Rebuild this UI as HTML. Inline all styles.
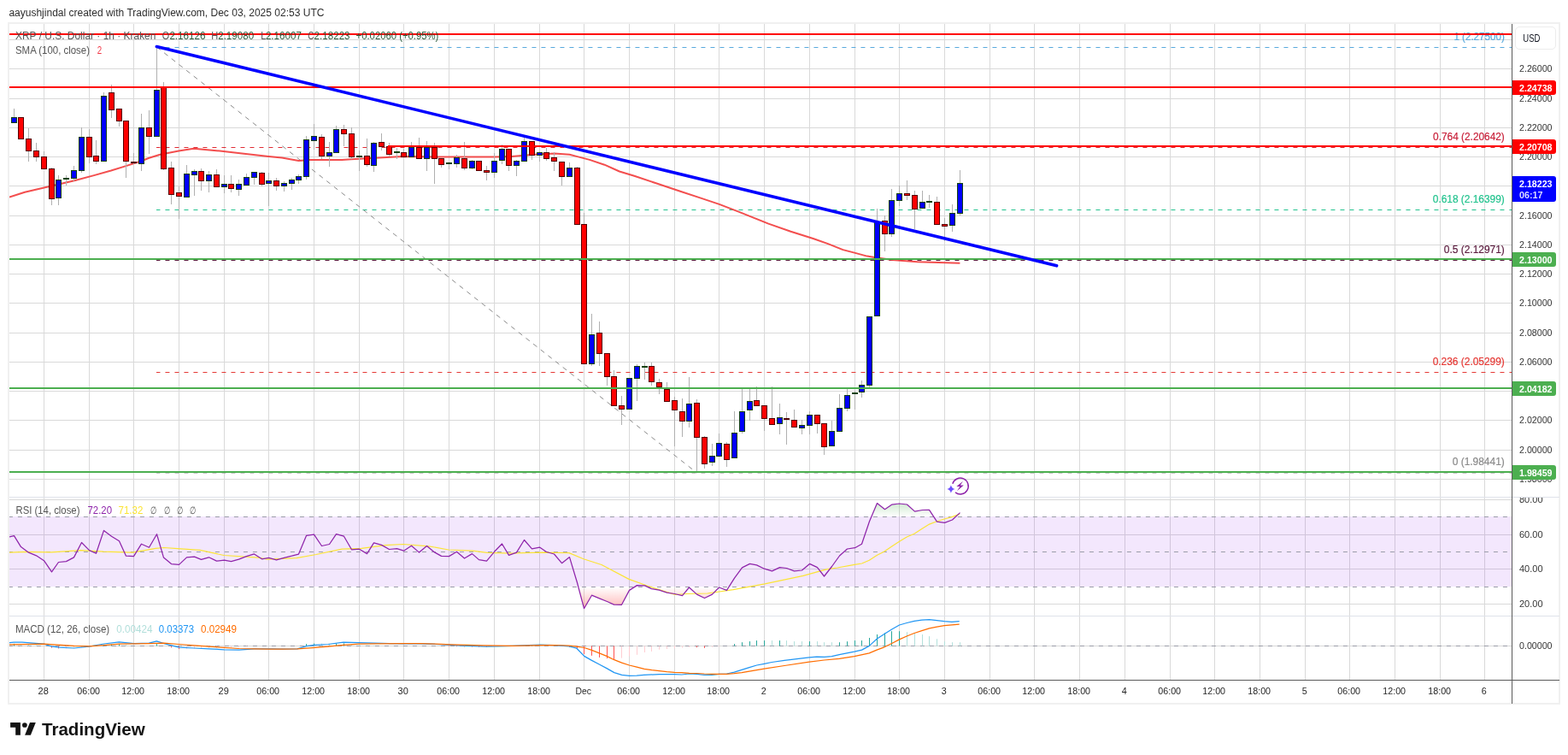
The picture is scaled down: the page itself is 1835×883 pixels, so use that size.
<!DOCTYPE html>
<html><head><meta charset="utf-8"><title>XRP / U.S. Dollar chart</title><style>html,body{margin:0;padding:0;background:#fff;width:1835px;height:883px;overflow:hidden}svg{display:block}</style></head><body>
<svg width="1835" height="883" viewBox="0 0 1835 883">
<defs>
<clipPath id="main"><rect x="11" y="28" width="1758" height="553"/></clipPath>
<clipPath id="rsi"><rect x="11" y="582" width="1758" height="138"/></clipPath>
<clipPath id="macd"><rect x="11" y="721" width="1758" height="74"/></clipPath>
<clipPath id="ob"><rect x="11" y="540" width="1758" height="64.5"/></clipPath>
<clipPath id="os"><rect x="11" y="686.5" width="1758" height="40"/></clipPath>
<clipPath id="axr"><rect x="1770" y="582" width="55" height="213"/></clipPath>
<linearGradient id="gob" x1="0" y1="543" x2="0" y2="604.5" gradientUnits="userSpaceOnUse"><stop offset="0" stop-color="#4caf50" stop-opacity="1"/><stop offset="1" stop-color="#4caf50" stop-opacity="0"/></linearGradient>
<linearGradient id="gos" x1="0" y1="686.5" x2="0" y2="748" gradientUnits="userSpaceOnUse"><stop offset="0" stop-color="#ff5252" stop-opacity="0"/><stop offset="1" stop-color="#ff5252" stop-opacity="1"/></linearGradient>
</defs>
<rect width="1835" height="883" fill="#ffffff"/>
<text x="10.4" y="18.6" font-family="'Liberation Sans', Arial, sans-serif" font-size="12" fill="#2e2e2e" textLength="369" lengthAdjust="spacingAndGlyphs">aayushjindal created with TradingView.com, Dec 03, 2025 02:53 UTC</text>
<rect x="10" y="27" width="1815" height="796" fill="none" stroke="#f0f0f0" stroke-width="2"/>
<rect x="51" y="28" width="1" height="767" fill="#d9d9d9"/><rect x="104" y="28" width="1" height="767" fill="#d9d9d9"/><rect x="156" y="28" width="1" height="767" fill="#d9d9d9"/><rect x="209" y="28" width="1" height="767" fill="#d9d9d9"/><rect x="262" y="28" width="1" height="767" fill="#d9d9d9"/><rect x="314" y="28" width="1" height="767" fill="#d9d9d9"/><rect x="367" y="28" width="1" height="767" fill="#d9d9d9"/><rect x="420" y="28" width="1" height="767" fill="#d9d9d9"/><rect x="472" y="28" width="1" height="767" fill="#d9d9d9"/><rect x="525" y="28" width="1" height="767" fill="#d9d9d9"/><rect x="578" y="28" width="1" height="767" fill="#d9d9d9"/><rect x="631" y="28" width="1" height="767" fill="#d9d9d9"/><rect x="683" y="28" width="1" height="767" fill="#d9d9d9"/><rect x="736" y="28" width="1" height="767" fill="#d9d9d9"/><rect x="789" y="28" width="1" height="767" fill="#d9d9d9"/><rect x="841" y="28" width="1" height="767" fill="#d9d9d9"/><rect x="894" y="28" width="1" height="767" fill="#d9d9d9"/><rect x="947" y="28" width="1" height="767" fill="#d9d9d9"/><rect x="1000" y="28" width="1" height="767" fill="#d9d9d9"/><rect x="1052" y="28" width="1" height="767" fill="#d9d9d9"/><rect x="1105" y="28" width="1" height="767" fill="#d9d9d9"/><rect x="1158" y="28" width="1" height="767" fill="#d9d9d9"/><rect x="1210" y="28" width="1" height="767" fill="#d9d9d9"/><rect x="1263" y="28" width="1" height="767" fill="#d9d9d9"/><rect x="1316" y="28" width="1" height="767" fill="#d9d9d9"/><rect x="1369" y="28" width="1" height="767" fill="#d9d9d9"/><rect x="1421" y="28" width="1" height="767" fill="#d9d9d9"/><rect x="1474" y="28" width="1" height="767" fill="#d9d9d9"/><rect x="1527" y="28" width="1" height="767" fill="#d9d9d9"/><rect x="1579" y="28" width="1" height="767" fill="#d9d9d9"/><rect x="1632" y="28" width="1" height="767" fill="#d9d9d9"/><rect x="1685" y="28" width="1" height="767" fill="#d9d9d9"/><rect x="1737" y="28" width="1" height="767" fill="#d9d9d9"/><rect x="11" y="46" width="1758" height="1" fill="#d9d9d9"/><rect x="11" y="80" width="1758" height="1" fill="#d9d9d9"/><rect x="11" y="115" width="1758" height="1" fill="#d9d9d9"/><rect x="11" y="149" width="1758" height="1" fill="#d9d9d9"/><rect x="11" y="183" width="1758" height="1" fill="#d9d9d9"/><rect x="11" y="217" width="1758" height="1" fill="#d9d9d9"/><rect x="11" y="252" width="1758" height="1" fill="#d9d9d9"/><rect x="11" y="286" width="1758" height="1" fill="#d9d9d9"/><rect x="11" y="320" width="1758" height="1" fill="#d9d9d9"/><rect x="11" y="354" width="1758" height="1" fill="#d9d9d9"/><rect x="11" y="389" width="1758" height="1" fill="#d9d9d9"/><rect x="11" y="423" width="1758" height="1" fill="#d9d9d9"/><rect x="11" y="457" width="1758" height="1" fill="#d9d9d9"/><rect x="11" y="491" width="1758" height="1" fill="#d9d9d9"/><rect x="11" y="526" width="1758" height="1" fill="#d9d9d9"/><rect x="11" y="560" width="1758" height="1" fill="#d9d9d9"/><rect x="11" y="584" width="1758" height="1" fill="#d9d9d9"/><rect x="11" y="625" width="1758" height="1" fill="#d9d9d9"/><rect x="11" y="665" width="1758" height="1" fill="#d9d9d9"/><rect x="11" y="706" width="1758" height="1" fill="#d9d9d9"/><rect x="11" y="604" width="1758" height="82" fill="rgb(155,60,240)" fill-opacity="0.12"/><line x1="11" y1="604.5" x2="1769" y2="604.5" stroke="#9a9ca8" stroke-width="1" stroke-dasharray="5 6" stroke-dashoffset="1.1"/><line x1="11" y1="645.5" x2="1769" y2="645.5" stroke="#9a9ca8" stroke-width="1" stroke-dasharray="5 6" stroke-dashoffset="1.1"/><line x1="11" y1="686.5" x2="1769" y2="686.5" stroke="#9a9ca8" stroke-width="1" stroke-dasharray="5 6" stroke-dashoffset="1.1"/><rect x="11" y="755" width="1758" height="1" fill="#d9d9d9"/><line x1="11" y1="755.5" x2="1769" y2="755.5" stroke="#9a9ca8" stroke-width="1" stroke-dasharray="5 6" stroke-dashoffset="1.1"/>
<rect x="11" y="581" width="1814" height="1" fill="#dfe2ea"/>
<rect x="11" y="720" width="1814" height="1" fill="#dfe2ea"/>
<g clip-path="url(#main)">
<line x1="183" y1="55.5" x2="1769" y2="55.5" stroke="#58a9dd" stroke-width="1.2" stroke-dasharray="5 6" stroke-dashoffset="0.55"/>
<line x1="183" y1="172.5" x2="1769" y2="172.5" stroke="#e02a33" stroke-width="1.2" stroke-dasharray="5 6" stroke-dashoffset="0.55"/>
<line x1="183" y1="245.5" x2="1769" y2="245.5" stroke="#22c38e" stroke-width="1.2" stroke-dasharray="5 6" stroke-dashoffset="0.55"/>
<line x1="183" y1="304.5" x2="1769" y2="304.5" stroke="#5a1a3d" stroke-width="1.2" stroke-dasharray="5 6" stroke-dashoffset="0.55"/>
<line x1="183" y1="435.5" x2="1769" y2="435.5" stroke="#e53935" stroke-width="1.2" stroke-dasharray="5 6" stroke-dashoffset="0.55"/>
<line x1="183" y1="553.0" x2="1769" y2="553.0" stroke="#8a8a8a" stroke-width="1.2" stroke-dasharray="5 6" stroke-dashoffset="0.55"/>
<line x1="183.5" y1="55" x2="815.5" y2="553" stroke="#8a8a8a" stroke-width="1" stroke-dasharray="5.5 5.5"/>
<g font-family="'Liberation Sans', Arial, sans-serif" font-size="12"><text x="1701.4" y="46.8" fill="#58a9dd" stroke="#58a9dd" stroke-width="0.2" textLength="59.4" lengthAdjust="spacingAndGlyphs">1 (2.27500)</text><text x="1677.1" y="163.7" fill="#c8213a" stroke="#c8213a" stroke-width="0.2" textLength="83.7" lengthAdjust="spacingAndGlyphs">0.764 (2.20642)</text><text x="1676.8" y="237" fill="#22c38e" stroke="#22c38e" stroke-width="0.2" textLength="84.0" lengthAdjust="spacingAndGlyphs">0.618 (2.16399)</text><text x="1689.8" y="295.9" fill="#5a1a3d" stroke="#5a1a3d" stroke-width="0.2" textLength="71.0" lengthAdjust="spacingAndGlyphs">0.5 (2.12971)</text><text x="1676.7" y="427" fill="#e53935" stroke="#e53935" stroke-width="0.2" textLength="84.1" lengthAdjust="spacingAndGlyphs">0.236 (2.05299)</text><text x="1699.7" y="543.8" fill="#8a8a8a" stroke="#8a8a8a" stroke-width="0.2" textLength="61.1" lengthAdjust="spacingAndGlyphs">0 (1.98441)</text></g>
<polyline points="11.0,230.5 29.0,224.7 58.0,218.0 87.0,211.3 110.0,205.1 130.0,199.5 145.0,194.9 165.0,188.5 174.4,184.8 187.4,180.7 209.2,176.6 226.7,173.8 257.2,176.6 283.3,179.4 314.4,183.0 330.0,184.6 349.5,188.0 362.0,187.1 400.0,186.9 411.0,186.3 471.0,183.0 526.0,183.6 580.0,183.6 598.6,182.9 625.8,180.8 648.9,179.5 666.5,180.8 674.7,182.9 690.0,186.9 707.4,192.7 724.9,200.5 742.3,205.8 768.5,214.5 794.6,223.2 820.8,231.9 841.7,238.9 864.4,247.6 881.8,254.6 899.3,261.6 925.4,270.8 951.6,279.0 969.0,285.1 986.5,292.1 1000.0,295.6 1014.7,299.6 1022.0,300.7 1044.2,304.0 1073.6,306.2 1123.4,307.7" fill="none" stroke="#f23b3b" stroke-opacity="0.9" stroke-width="2" stroke-linejoin="round"/>
<rect x="16" y="127" width="1" height="17" fill="#b0b0b0"/><rect x="24" y="137" width="1" height="26" fill="#b0b0b0"/><rect x="33" y="150" width="1" height="39" fill="#b0b0b0"/><rect x="42" y="167" width="1" height="22" fill="#b0b0b0"/><rect x="51" y="177" width="1" height="21" fill="#b0b0b0"/><rect x="60" y="196" width="1" height="44" fill="#b0b0b0"/><rect x="68" y="205" width="1" height="35" fill="#b0b0b0"/><rect x="77" y="205" width="1" height="12" fill="#b0b0b0"/><rect x="86" y="194" width="1" height="18" fill="#b0b0b0"/><rect x="95" y="149" width="1" height="53" fill="#b0b0b0"/><rect x="104" y="151" width="1" height="40" fill="#b0b0b0"/><rect x="112" y="164" width="1" height="28" fill="#b0b0b0"/><rect x="121" y="108" width="1" height="81" fill="#b0b0b0"/><rect x="130" y="99" width="1" height="39" fill="#b0b0b0"/><rect x="139" y="127" width="1" height="21" fill="#b0b0b0"/><rect x="147" y="141" width="1" height="67" fill="#b0b0b0"/><rect x="156" y="179" width="1" height="13" fill="#b0b0b0"/><rect x="165" y="133" width="1" height="67" fill="#b0b0b0"/><rect x="174" y="129" width="1" height="51" fill="#b0b0b0"/><rect x="183" y="56" width="1" height="104" fill="#b0b0b0"/><rect x="191" y="96" width="1" height="103" fill="#b0b0b0"/><rect x="200" y="189" width="1" height="50" fill="#b0b0b0"/><rect x="209" y="218" width="1" height="38" fill="#b0b0b0"/><rect x="218" y="193" width="1" height="38" fill="#b0b0b0"/><rect x="227" y="198" width="1" height="31" fill="#b0b0b0"/><rect x="235" y="197" width="1" height="26" fill="#b0b0b0"/><rect x="244" y="200" width="1" height="25" fill="#b0b0b0"/><rect x="253" y="198" width="1" height="21" fill="#b0b0b0"/><rect x="262" y="205" width="1" height="21" fill="#b0b0b0"/><rect x="270" y="205" width="1" height="20" fill="#b0b0b0"/><rect x="279" y="210" width="1" height="19" fill="#b0b0b0"/><rect x="288" y="203" width="1" height="14" fill="#b0b0b0"/><rect x="297" y="201" width="1" height="15" fill="#b0b0b0"/><rect x="306" y="201" width="1" height="17" fill="#b0b0b0"/><rect x="314" y="202" width="1" height="39" fill="#b0b0b0"/><rect x="323" y="208" width="1" height="15" fill="#b0b0b0"/><rect x="332" y="212" width="1" height="12" fill="#b0b0b0"/><rect x="341" y="208" width="1" height="14" fill="#b0b0b0"/><rect x="349" y="204" width="1" height="11" fill="#b0b0b0"/><rect x="358" y="159" width="1" height="51" fill="#b0b0b0"/><rect x="367" y="145" width="1" height="30" fill="#b0b0b0"/><rect x="376" y="157" width="1" height="29" fill="#b0b0b0"/><rect x="385" y="166" width="1" height="29" fill="#b0b0b0"/><rect x="393" y="147" width="1" height="32" fill="#b0b0b0"/><rect x="402" y="146" width="1" height="25" fill="#b0b0b0"/><rect x="411" y="149" width="1" height="37" fill="#b0b0b0"/><rect x="420" y="176" width="1" height="24" fill="#b0b0b0"/><rect x="429" y="162" width="1" height="33" fill="#b0b0b0"/><rect x="437" y="166" width="1" height="35" fill="#b0b0b0"/><rect x="446" y="156" width="1" height="20" fill="#b0b0b0"/><rect x="455" y="167" width="1" height="16" fill="#b0b0b0"/><rect x="464" y="173" width="1" height="13" fill="#b0b0b0"/><rect x="472" y="174" width="1" height="10" fill="#b0b0b0"/><rect x="481" y="166" width="1" height="18" fill="#b0b0b0"/><rect x="490" y="161" width="1" height="25" fill="#b0b0b0"/><rect x="499" y="165" width="1" height="35" fill="#b0b0b0"/><rect x="508" y="167" width="1" height="48" fill="#b0b0b0"/><rect x="516" y="185" width="1" height="11" fill="#b0b0b0"/><rect x="525" y="189" width="1" height="9" fill="#b0b0b0"/><rect x="534" y="181" width="1" height="15" fill="#b0b0b0"/><rect x="543" y="166" width="1" height="33" fill="#b0b0b0"/><rect x="552" y="187" width="1" height="11" fill="#b0b0b0"/><rect x="560" y="188" width="1" height="12" fill="#b0b0b0"/><rect x="569" y="194" width="1" height="17" fill="#b0b0b0"/><rect x="578" y="179" width="1" height="29" fill="#b0b0b0"/><rect x="587" y="169" width="1" height="23" fill="#b0b0b0"/><rect x="595" y="174" width="1" height="26" fill="#b0b0b0"/><rect x="604" y="187" width="1" height="19" fill="#b0b0b0"/><rect x="613" y="161" width="1" height="28" fill="#b0b0b0"/><rect x="622" y="166" width="1" height="21" fill="#b0b0b0"/><rect x="631" y="177" width="1" height="12" fill="#b0b0b0"/><rect x="639" y="173" width="1" height="15" fill="#b0b0b0"/><rect x="648" y="178" width="1" height="22" fill="#b0b0b0"/><rect x="657" y="189" width="1" height="28" fill="#b0b0b0"/><rect x="666" y="190" width="1" height="17" fill="#b0b0b0"/><rect x="675" y="195" width="1" height="68" fill="#b0b0b0"/><rect x="683" y="249" width="1" height="177" fill="#b0b0b0"/><rect x="692" y="367" width="1" height="61" fill="#b0b0b0"/><rect x="701" y="376" width="1" height="52" fill="#b0b0b0"/><rect x="710" y="413" width="1" height="38" fill="#b0b0b0"/><rect x="718" y="433" width="1" height="42" fill="#b0b0b0"/><rect x="727" y="463" width="1" height="34" fill="#b0b0b0"/><rect x="736" y="442" width="1" height="37" fill="#b0b0b0"/><rect x="745" y="426" width="1" height="43" fill="#b0b0b0"/><rect x="754" y="424" width="1" height="20" fill="#b0b0b0"/><rect x="762" y="424" width="1" height="27" fill="#b0b0b0"/><rect x="771" y="443" width="1" height="18" fill="#b0b0b0"/><rect x="780" y="447" width="1" height="23" fill="#b0b0b0"/><rect x="789" y="464" width="1" height="58" fill="#b0b0b0"/><rect x="798" y="466" width="1" height="45" fill="#b0b0b0"/><rect x="806" y="441" width="1" height="59" fill="#b0b0b0"/><rect x="815" y="467" width="1" height="85" fill="#b0b0b0"/><rect x="824" y="510" width="1" height="38" fill="#b0b0b0"/><rect x="833" y="519" width="1" height="26" fill="#b0b0b0"/><rect x="841" y="507" width="1" height="28" fill="#b0b0b0"/><rect x="850" y="517" width="1" height="29" fill="#b0b0b0"/><rect x="859" y="481" width="1" height="55" fill="#b0b0b0"/><rect x="868" y="455" width="1" height="52" fill="#b0b0b0"/><rect x="877" y="455" width="1" height="37" fill="#b0b0b0"/><rect x="885" y="452" width="1" height="23" fill="#b0b0b0"/><rect x="894" y="474" width="1" height="30" fill="#b0b0b0"/><rect x="903" y="452" width="1" height="45" fill="#b0b0b0"/><rect x="912" y="472" width="1" height="36" fill="#b0b0b0"/><rect x="920" y="482" width="1" height="38" fill="#b0b0b0"/><rect x="929" y="479" width="1" height="21" fill="#b0b0b0"/><rect x="938" y="491" width="1" height="17" fill="#b0b0b0"/><rect x="947" y="481" width="1" height="27" fill="#b0b0b0"/><rect x="956" y="485" width="1" height="22" fill="#b0b0b0"/><rect x="964" y="495" width="1" height="37" fill="#b0b0b0"/><rect x="973" y="492" width="1" height="30" fill="#b0b0b0"/><rect x="982" y="461" width="1" height="44" fill="#b0b0b0"/><rect x="991" y="455" width="1" height="26" fill="#b0b0b0"/><rect x="1000" y="457" width="1" height="22" fill="#b0b0b0"/><rect x="1008" y="445" width="1" height="20" fill="#b0b0b0"/><rect x="1017" y="370" width="1" height="83" fill="#b0b0b0"/><rect x="1026" y="244" width="1" height="126" fill="#b0b0b0"/><rect x="1035" y="252" width="1" height="42" fill="#b0b0b0"/><rect x="1043" y="221" width="1" height="56" fill="#b0b0b0"/><rect x="1052" y="217" width="1" height="24" fill="#b0b0b0"/><rect x="1061" y="211" width="1" height="23" fill="#b0b0b0"/><rect x="1070" y="223" width="1" height="45" fill="#b0b0b0"/><rect x="1079" y="223" width="1" height="21" fill="#b0b0b0"/><rect x="1087" y="228" width="1" height="15" fill="#b0b0b0"/><rect x="1096" y="230" width="1" height="33" fill="#b0b0b0"/><rect x="1105" y="255" width="1" height="27" fill="#b0b0b0"/><rect x="1114" y="239" width="1" height="32" fill="#b0b0b0"/><rect x="1123" y="199" width="1" height="53" fill="#b0b0b0"/>
<rect x="13" y="137" width="7" height="7" fill="#14420f"/><rect x="14" y="138" width="5" height="5" fill="#0000ff"/><rect x="21" y="137" width="7" height="26" fill="#520000"/><rect x="22" y="138" width="5" height="24" fill="#ff0000"/><rect x="30" y="162" width="7" height="15" fill="#520000"/><rect x="31" y="163" width="5" height="13" fill="#ff0000"/><rect x="39" y="176" width="7" height="8" fill="#520000"/><rect x="40" y="177" width="5" height="6" fill="#ff0000"/><rect x="48" y="183" width="7" height="15" fill="#520000"/><rect x="49" y="184" width="5" height="13" fill="#ff0000"/><rect x="57" y="197" width="7" height="36" fill="#520000"/><rect x="58" y="198" width="5" height="34" fill="#ff0000"/><rect x="65" y="210" width="7" height="22" fill="#14420f"/><rect x="66" y="211" width="5" height="20" fill="#0000ff"/><rect x="74" y="208" width="7" height="2" fill="#14420f"/><rect x="83" y="199" width="7" height="10" fill="#14420f"/><rect x="84" y="200" width="5" height="8" fill="#0000ff"/><rect x="92" y="160" width="7" height="40" fill="#14420f"/><rect x="93" y="161" width="5" height="38" fill="#0000ff"/><rect x="101" y="160" width="7" height="24" fill="#520000"/><rect x="102" y="161" width="5" height="22" fill="#ff0000"/><rect x="109" y="182" width="7" height="7" fill="#520000"/><rect x="110" y="183" width="5" height="5" fill="#ff0000"/><rect x="118" y="112" width="7" height="77" fill="#14420f"/><rect x="119" y="113" width="5" height="75" fill="#0000ff"/><rect x="127" y="108" width="7" height="21" fill="#520000"/><rect x="128" y="109" width="5" height="19" fill="#ff0000"/><rect x="136" y="127" width="7" height="15" fill="#520000"/><rect x="137" y="128" width="5" height="13" fill="#ff0000"/><rect x="144" y="141" width="7" height="48" fill="#520000"/><rect x="145" y="142" width="5" height="46" fill="#ff0000"/><rect x="153" y="189" width="7" height="2" fill="#520000"/><rect x="162" y="149" width="7" height="43" fill="#14420f"/><rect x="163" y="150" width="5" height="41" fill="#0000ff"/><rect x="171" y="149" width="7" height="11" fill="#520000"/><rect x="172" y="150" width="5" height="9" fill="#ff0000"/><rect x="180" y="105" width="7" height="55" fill="#14420f"/><rect x="181" y="106" width="5" height="53" fill="#0000ff"/><rect x="188" y="102" width="7" height="96" fill="#520000"/><rect x="189" y="103" width="5" height="94" fill="#ff0000"/><rect x="197" y="196" width="7" height="32" fill="#520000"/><rect x="198" y="197" width="5" height="30" fill="#ff0000"/><rect x="206" y="225" width="7" height="5" fill="#520000"/><rect x="207" y="226" width="5" height="3" fill="#ff0000"/><rect x="215" y="203" width="7" height="28" fill="#14420f"/><rect x="216" y="204" width="5" height="26" fill="#0000ff"/><rect x="224" y="200" width="7" height="5" fill="#14420f"/><rect x="225" y="201" width="5" height="3" fill="#0000ff"/><rect x="232" y="200" width="7" height="12" fill="#520000"/><rect x="233" y="201" width="5" height="10" fill="#ff0000"/><rect x="241" y="204" width="7" height="8" fill="#14420f"/><rect x="242" y="205" width="5" height="6" fill="#0000ff"/><rect x="250" y="204" width="7" height="15" fill="#520000"/><rect x="251" y="205" width="5" height="13" fill="#ff0000"/><rect x="259" y="215" width="7" height="4" fill="#14420f"/><rect x="260" y="216" width="5" height="2" fill="#0000ff"/><rect x="267" y="215" width="7" height="6" fill="#520000"/><rect x="268" y="216" width="5" height="4" fill="#ff0000"/><rect x="276" y="215" width="7" height="7" fill="#14420f"/><rect x="277" y="216" width="5" height="5" fill="#0000ff"/><rect x="285" y="207" width="7" height="10" fill="#14420f"/><rect x="286" y="208" width="5" height="8" fill="#0000ff"/><rect x="294" y="201" width="7" height="7" fill="#14420f"/><rect x="295" y="202" width="5" height="5" fill="#0000ff"/><rect x="303" y="202" width="7" height="14" fill="#520000"/><rect x="304" y="203" width="5" height="12" fill="#ff0000"/><rect x="311" y="211" width="7" height="4" fill="#14420f"/><rect x="312" y="212" width="5" height="2" fill="#0000ff"/><rect x="320" y="211" width="7" height="7" fill="#520000"/><rect x="321" y="212" width="5" height="5" fill="#ff0000"/><rect x="329" y="214" width="7" height="4" fill="#14420f"/><rect x="330" y="215" width="5" height="2" fill="#0000ff"/><rect x="338" y="210" width="7" height="5" fill="#14420f"/><rect x="339" y="211" width="5" height="3" fill="#0000ff"/><rect x="346" y="206" width="7" height="5" fill="#14420f"/><rect x="347" y="207" width="5" height="3" fill="#0000ff"/><rect x="355" y="163" width="7" height="44" fill="#14420f"/><rect x="356" y="164" width="5" height="42" fill="#0000ff"/><rect x="364" y="159" width="7" height="6" fill="#14420f"/><rect x="365" y="160" width="5" height="4" fill="#0000ff"/><rect x="373" y="160" width="7" height="23" fill="#520000"/><rect x="374" y="161" width="5" height="21" fill="#ff0000"/><rect x="382" y="178" width="7" height="5" fill="#14420f"/><rect x="383" y="179" width="5" height="3" fill="#0000ff"/><rect x="390" y="151" width="7" height="28" fill="#14420f"/><rect x="391" y="152" width="5" height="26" fill="#0000ff"/><rect x="399" y="151" width="7" height="6" fill="#520000"/><rect x="400" y="152" width="5" height="4" fill="#ff0000"/><rect x="408" y="156" width="7" height="28" fill="#520000"/><rect x="409" y="157" width="5" height="26" fill="#ff0000"/><rect x="417" y="182" width="7" height="2" fill="#14420f"/><rect x="426" y="182" width="7" height="11" fill="#520000"/><rect x="427" y="183" width="5" height="9" fill="#ff0000"/><rect x="434" y="167" width="7" height="27" fill="#14420f"/><rect x="435" y="168" width="5" height="25" fill="#0000ff"/><rect x="443" y="166" width="7" height="6" fill="#520000"/><rect x="444" y="167" width="5" height="4" fill="#ff0000"/><rect x="452" y="171" width="7" height="10" fill="#520000"/><rect x="453" y="172" width="5" height="8" fill="#ff0000"/><rect x="461" y="177" width="7" height="2" fill="#14420f"/><rect x="469" y="178" width="7" height="6" fill="#520000"/><rect x="470" y="179" width="5" height="4" fill="#ff0000"/><rect x="478" y="172" width="7" height="12" fill="#14420f"/><rect x="479" y="173" width="5" height="10" fill="#0000ff"/><rect x="487" y="172" width="7" height="14" fill="#520000"/><rect x="488" y="173" width="5" height="12" fill="#ff0000"/><rect x="496" y="172" width="7" height="14" fill="#14420f"/><rect x="497" y="173" width="5" height="12" fill="#0000ff"/><rect x="505" y="172" width="7" height="14" fill="#520000"/><rect x="506" y="173" width="5" height="12" fill="#ff0000"/><rect x="513" y="185" width="7" height="8" fill="#520000"/><rect x="514" y="186" width="5" height="6" fill="#ff0000"/><rect x="522" y="190" width="7" height="2" fill="#14420f"/><rect x="531" y="184" width="7" height="8" fill="#14420f"/><rect x="532" y="185" width="5" height="6" fill="#0000ff"/><rect x="540" y="185" width="7" height="12" fill="#520000"/><rect x="541" y="186" width="5" height="10" fill="#ff0000"/><rect x="549" y="188" width="7" height="9" fill="#14420f"/><rect x="550" y="189" width="5" height="7" fill="#0000ff"/><rect x="557" y="188" width="7" height="12" fill="#520000"/><rect x="558" y="189" width="5" height="10" fill="#ff0000"/><rect x="566" y="199" width="7" height="3" fill="#520000"/><rect x="567" y="200" width="5" height="1" fill="#ff0000"/><rect x="575" y="188" width="7" height="14" fill="#14420f"/><rect x="576" y="189" width="5" height="12" fill="#0000ff"/><rect x="584" y="174" width="7" height="14" fill="#14420f"/><rect x="585" y="175" width="5" height="12" fill="#0000ff"/><rect x="592" y="174" width="7" height="20" fill="#520000"/><rect x="593" y="175" width="5" height="18" fill="#ff0000"/><rect x="601" y="188" width="7" height="6" fill="#14420f"/><rect x="602" y="189" width="5" height="4" fill="#0000ff"/><rect x="610" y="165" width="7" height="24" fill="#14420f"/><rect x="611" y="166" width="5" height="22" fill="#0000ff"/><rect x="619" y="165" width="7" height="17" fill="#520000"/><rect x="620" y="166" width="5" height="15" fill="#ff0000"/><rect x="628" y="178" width="7" height="4" fill="#14420f"/><rect x="629" y="179" width="5" height="2" fill="#0000ff"/><rect x="636" y="178" width="7" height="8" fill="#520000"/><rect x="637" y="179" width="5" height="6" fill="#ff0000"/><rect x="645" y="184" width="7" height="5" fill="#520000"/><rect x="646" y="185" width="5" height="3" fill="#ff0000"/><rect x="654" y="189" width="7" height="18" fill="#520000"/><rect x="655" y="190" width="5" height="16" fill="#ff0000"/><rect x="663" y="196" width="7" height="11" fill="#14420f"/><rect x="664" y="197" width="5" height="9" fill="#0000ff"/><rect x="672" y="196" width="7" height="67" fill="#520000"/><rect x="673" y="197" width="5" height="65" fill="#ff0000"/><rect x="680" y="262" width="7" height="164" fill="#520000"/><rect x="681" y="263" width="5" height="162" fill="#ff0000"/><rect x="689" y="391" width="7" height="35" fill="#14420f"/><rect x="690" y="392" width="5" height="33" fill="#0000ff"/><rect x="698" y="389" width="7" height="25" fill="#520000"/><rect x="699" y="390" width="5" height="23" fill="#ff0000"/><rect x="707" y="413" width="7" height="28" fill="#520000"/><rect x="708" y="414" width="5" height="26" fill="#ff0000"/><rect x="715" y="440" width="7" height="35" fill="#520000"/><rect x="716" y="441" width="5" height="33" fill="#ff0000"/><rect x="724" y="474" width="7" height="5" fill="#520000"/><rect x="725" y="475" width="5" height="3" fill="#ff0000"/><rect x="733" y="442" width="7" height="37" fill="#14420f"/><rect x="734" y="443" width="5" height="35" fill="#0000ff"/><rect x="742" y="428" width="7" height="15" fill="#14420f"/><rect x="743" y="429" width="5" height="13" fill="#0000ff"/><rect x="751" y="428" width="7" height="2" fill="#14420f"/><rect x="759" y="428" width="7" height="19" fill="#520000"/><rect x="760" y="429" width="5" height="17" fill="#ff0000"/><rect x="768" y="447" width="7" height="6" fill="#520000"/><rect x="769" y="448" width="5" height="4" fill="#ff0000"/><rect x="777" y="455" width="7" height="15" fill="#520000"/><rect x="778" y="456" width="5" height="13" fill="#ff0000"/><rect x="786" y="468" width="7" height="12" fill="#520000"/><rect x="787" y="469" width="5" height="10" fill="#ff0000"/><rect x="795" y="481" width="7" height="12" fill="#520000"/><rect x="796" y="482" width="5" height="10" fill="#ff0000"/><rect x="803" y="472" width="7" height="21" fill="#14420f"/><rect x="804" y="473" width="5" height="19" fill="#0000ff"/><rect x="812" y="471" width="7" height="41" fill="#520000"/><rect x="813" y="472" width="5" height="39" fill="#ff0000"/><rect x="821" y="511" width="7" height="32" fill="#520000"/><rect x="822" y="512" width="5" height="30" fill="#ff0000"/><rect x="830" y="533" width="7" height="8" fill="#14420f"/><rect x="831" y="534" width="5" height="6" fill="#0000ff"/><rect x="838" y="518" width="7" height="16" fill="#14420f"/><rect x="839" y="519" width="5" height="14" fill="#0000ff"/><rect x="847" y="519" width="7" height="19" fill="#520000"/><rect x="848" y="520" width="5" height="17" fill="#ff0000"/><rect x="856" y="506" width="7" height="30" fill="#14420f"/><rect x="857" y="507" width="5" height="28" fill="#0000ff"/><rect x="865" y="481" width="7" height="24" fill="#14420f"/><rect x="866" y="482" width="5" height="22" fill="#0000ff"/><rect x="874" y="469" width="7" height="11" fill="#14420f"/><rect x="875" y="470" width="5" height="9" fill="#0000ff"/><rect x="882" y="468" width="7" height="7" fill="#520000"/><rect x="883" y="469" width="5" height="5" fill="#ff0000"/><rect x="891" y="474" width="7" height="16" fill="#520000"/><rect x="892" y="475" width="5" height="14" fill="#ff0000"/><rect x="900" y="489" width="7" height="8" fill="#520000"/><rect x="901" y="490" width="5" height="6" fill="#ff0000"/><rect x="909" y="488" width="7" height="8" fill="#14420f"/><rect x="910" y="489" width="5" height="6" fill="#0000ff"/><rect x="917" y="489" width="7" height="2" fill="#520000"/><rect x="926" y="491" width="7" height="9" fill="#520000"/><rect x="927" y="492" width="5" height="7" fill="#ff0000"/><rect x="935" y="497" width="7" height="4" fill="#14420f"/><rect x="936" y="498" width="5" height="2" fill="#0000ff"/><rect x="944" y="485" width="7" height="13" fill="#14420f"/><rect x="945" y="486" width="5" height="11" fill="#0000ff"/><rect x="953" y="485" width="7" height="11" fill="#520000"/><rect x="954" y="486" width="5" height="9" fill="#ff0000"/><rect x="961" y="495" width="7" height="28" fill="#520000"/><rect x="962" y="496" width="5" height="26" fill="#ff0000"/><rect x="970" y="504" width="7" height="18" fill="#14420f"/><rect x="971" y="505" width="5" height="16" fill="#0000ff"/><rect x="979" y="477" width="7" height="28" fill="#14420f"/><rect x="980" y="478" width="5" height="26" fill="#0000ff"/><rect x="988" y="462" width="7" height="16" fill="#14420f"/><rect x="989" y="463" width="5" height="14" fill="#0000ff"/><rect x="997" y="459" width="7" height="2" fill="#14420f"/><rect x="1005" y="450" width="7" height="9" fill="#14420f"/><rect x="1006" y="451" width="5" height="7" fill="#0000ff"/><rect x="1014" y="370" width="7" height="81" fill="#14420f"/><rect x="1015" y="371" width="5" height="79" fill="#0000ff"/><rect x="1023" y="259" width="7" height="111" fill="#14420f"/><rect x="1024" y="260" width="5" height="109" fill="#0000ff"/><rect x="1032" y="258" width="7" height="16" fill="#520000"/><rect x="1033" y="259" width="5" height="14" fill="#ff0000"/><rect x="1040" y="234" width="7" height="40" fill="#14420f"/><rect x="1041" y="235" width="5" height="38" fill="#0000ff"/><rect x="1049" y="226" width="7" height="9" fill="#14420f"/><rect x="1050" y="227" width="5" height="7" fill="#0000ff"/><rect x="1058" y="226" width="7" height="3" fill="#520000"/><rect x="1059" y="227" width="5" height="1" fill="#ff0000"/><rect x="1067" y="228" width="7" height="17" fill="#520000"/><rect x="1068" y="229" width="5" height="15" fill="#ff0000"/><rect x="1076" y="236" width="7" height="8" fill="#14420f"/><rect x="1077" y="237" width="5" height="6" fill="#0000ff"/><rect x="1084" y="235" width="7" height="2" fill="#14420f"/><rect x="1093" y="236" width="7" height="27" fill="#520000"/><rect x="1094" y="237" width="5" height="25" fill="#ff0000"/><rect x="1102" y="262" width="7" height="3" fill="#520000"/><rect x="1103" y="263" width="5" height="1" fill="#ff0000"/><rect x="1111" y="249" width="7" height="15" fill="#14420f"/><rect x="1112" y="250" width="5" height="13" fill="#0000ff"/><rect x="1120" y="214" width="7" height="36" fill="#14420f"/><rect x="1121" y="215" width="5" height="34" fill="#0000ff"/>
<rect x="11" y="39" width="1758" height="2" fill="#ff0000"/>
<rect x="11" y="101" width="1758" height="2" fill="#ff0000"/>
<rect x="454" y="170" width="1315" height="2" fill="#ff0000"/>
<rect x="11" y="302" width="1758" height="2" fill="#4caf50"/>
<rect x="11" y="453" width="1758" height="2" fill="#4caf50"/>
<rect x="11" y="551" width="1758" height="2" fill="#4caf50"/>
<line x1="183.4" y1="54.5" x2="1236.6" y2="310.8" stroke="#0000ff" stroke-width="3.6" stroke-linecap="round"/>
</g>
<g clip-path="url(#rsi)">
<polygon points="10.5,628.1 16.5,626.6 24.5,639.6 33.5,646.2 42.5,649.8 51.5,655.7 60.5,668.9 68.5,657.5 77.5,656.6 86.5,651.9 95.5,634.5 104.5,643.6 112.5,647.3 121.5,620.4 130.5,627.2 139.5,632.8 147.5,650.2 156.5,650.6 165.5,636.2 174.5,640.2 183.5,624.7 191.5,652.1 200.5,659.6 209.5,660.4 218.5,651.9 227.5,651.2 235.5,654.4 244.5,651.8 253.5,656.1 262.5,655.2 270.5,656.6 279.5,654.1 288.5,650.6 297.5,647.9 306.5,653.8 314.5,652.3 323.5,654.9 332.5,652.3 341.5,650.2 349.5,648.1 358.5,626.4 367.5,625.1 376.5,638.5 385.5,636.5 393.5,624.7 402.5,627.2 411.5,642.8 420.5,642.2 429.5,647.6 437.5,634.9 446.5,637.4 455.5,642.5 464.5,641.6 472.5,644.2 481.5,638.2 490.5,646.1 499.5,638.5 508.5,645.9 516.5,650.4 525.5,650.6 534.5,645.3 543.5,653.0 552.5,647.6 560.5,654.6 569.5,656.1 578.5,645.3 587.5,636.0 595.5,649.4 604.5,646.2 613.5,631.5 622.5,641.8 631.5,640.1 639.5,645.5 648.5,648.0 657.5,658.7 666.5,651.6 675.5,681.5 683.5,711.7 692.5,696.2 701.5,699.9 710.5,703.5 718.5,707.1 727.5,707.3 736.5,690.4 745.5,684.6 754.5,684.9 762.5,688.6 771.5,690.1 780.5,693.1 789.5,694.5 798.5,696.7 806.5,687.0 815.5,695.1 824.5,699.5 833.5,695.1 841.5,687.0 850.5,690.4 859.5,676.1 868.5,663.9 877.5,659.4 885.5,660.9 894.5,665.2 903.5,667.9 912.5,663.6 920.5,664.5 929.5,667.9 938.5,667.0 947.5,659.4 956.5,663.6 964.5,674.0 973.5,662.5 982.5,650.0 991.5,642.0 1000.5,640.7 1008.5,636.2 1017.5,609.7 1026.5,588.6 1035.5,595.7 1043.5,590.2 1052.5,589.0 1061.5,590.0 1070.5,598.1 1079.5,596.5 1087.5,596.3 1096.5,610.1 1105.5,611.4 1114.5,608.0 1123.5,599.6 1123.5,604.5 10.5,604.5" fill="url(#gob)" clip-path="url(#ob)"/>
<polygon points="10.5,628.1 16.5,626.6 24.5,639.6 33.5,646.2 42.5,649.8 51.5,655.7 60.5,668.9 68.5,657.5 77.5,656.6 86.5,651.9 95.5,634.5 104.5,643.6 112.5,647.3 121.5,620.4 130.5,627.2 139.5,632.8 147.5,650.2 156.5,650.6 165.5,636.2 174.5,640.2 183.5,624.7 191.5,652.1 200.5,659.6 209.5,660.4 218.5,651.9 227.5,651.2 235.5,654.4 244.5,651.8 253.5,656.1 262.5,655.2 270.5,656.6 279.5,654.1 288.5,650.6 297.5,647.9 306.5,653.8 314.5,652.3 323.5,654.9 332.5,652.3 341.5,650.2 349.5,648.1 358.5,626.4 367.5,625.1 376.5,638.5 385.5,636.5 393.5,624.7 402.5,627.2 411.5,642.8 420.5,642.2 429.5,647.6 437.5,634.9 446.5,637.4 455.5,642.5 464.5,641.6 472.5,644.2 481.5,638.2 490.5,646.1 499.5,638.5 508.5,645.9 516.5,650.4 525.5,650.6 534.5,645.3 543.5,653.0 552.5,647.6 560.5,654.6 569.5,656.1 578.5,645.3 587.5,636.0 595.5,649.4 604.5,646.2 613.5,631.5 622.5,641.8 631.5,640.1 639.5,645.5 648.5,648.0 657.5,658.7 666.5,651.6 675.5,681.5 683.5,711.7 692.5,696.2 701.5,699.9 710.5,703.5 718.5,707.1 727.5,707.3 736.5,690.4 745.5,684.6 754.5,684.9 762.5,688.6 771.5,690.1 780.5,693.1 789.5,694.5 798.5,696.7 806.5,687.0 815.5,695.1 824.5,699.5 833.5,695.1 841.5,687.0 850.5,690.4 859.5,676.1 868.5,663.9 877.5,659.4 885.5,660.9 894.5,665.2 903.5,667.9 912.5,663.6 920.5,664.5 929.5,667.9 938.5,667.0 947.5,659.4 956.5,663.6 964.5,674.0 973.5,662.5 982.5,650.0 991.5,642.0 1000.5,640.7 1008.5,636.2 1017.5,609.7 1026.5,588.6 1035.5,595.7 1043.5,590.2 1052.5,589.0 1061.5,590.0 1070.5,598.1 1079.5,596.5 1087.5,596.3 1096.5,610.1 1105.5,611.4 1114.5,608.0 1123.5,599.6 1123.5,686.5 10.5,686.5" fill="url(#gos)" clip-path="url(#os)"/>
<polyline points="10.0,646.2 31.0,645.3 60.0,645.9 95.0,643.6 121.0,645.1 155.0,646.2 182.0,641.3 192.0,640.5 208.0,641.6 234.0,643.4 262.0,649.5 302.0,652.1 313.0,654.1 347.0,652.7 370.0,648.5 400.0,642.1 423.0,641.3 451.0,637.6 472.0,636.5 502.0,638.8 525.0,643.0 553.0,644.2 570.0,646.4 600.0,647.2 612.0,646.6 636.0,646.2 666.0,646.6 683.0,653.7 704.0,660.5 736.0,677.4 758.0,685.3 790.0,695.5 804.0,694.5 828.0,694.0 858.0,689.7 895.0,682.9 940.0,673.4 967.0,665.9 980.0,664.0 1000.0,660.4 1008.6,659.0 1017.3,655.2 1026.1,649.5 1034.9,645.0 1043.7,638.9 1052.5,633.2 1061.2,628.0 1070.0,624.2 1078.8,618.5 1087.6,613.1 1096.4,609.7 1105.1,607.0 1113.9,604.6 1122.7,601.4" fill="none" stroke="#fbe435" stroke-width="1.2" stroke-linejoin="round"/>
<polyline points="10.5,628.1 16.5,626.6 24.5,639.6 33.5,646.2 42.5,649.8 51.5,655.7 60.5,668.9 68.5,657.5 77.5,656.6 86.5,651.9 95.5,634.5 104.5,643.6 112.5,647.3 121.5,620.4 130.5,627.2 139.5,632.8 147.5,650.2 156.5,650.6 165.5,636.2 174.5,640.2 183.5,624.7 191.5,652.1 200.5,659.6 209.5,660.4 218.5,651.9 227.5,651.2 235.5,654.4 244.5,651.8 253.5,656.1 262.5,655.2 270.5,656.6 279.5,654.1 288.5,650.6 297.5,647.9 306.5,653.8 314.5,652.3 323.5,654.9 332.5,652.3 341.5,650.2 349.5,648.1 358.5,626.4 367.5,625.1 376.5,638.5 385.5,636.5 393.5,624.7 402.5,627.2 411.5,642.8 420.5,642.2 429.5,647.6 437.5,634.9 446.5,637.4 455.5,642.5 464.5,641.6 472.5,644.2 481.5,638.2 490.5,646.1 499.5,638.5 508.5,645.9 516.5,650.4 525.5,650.6 534.5,645.3 543.5,653.0 552.5,647.6 560.5,654.6 569.5,656.1 578.5,645.3 587.5,636.0 595.5,649.4 604.5,646.2 613.5,631.5 622.5,641.8 631.5,640.1 639.5,645.5 648.5,648.0 657.5,658.7 666.5,651.6 675.5,681.5 683.5,711.7 692.5,696.2 701.5,699.9 710.5,703.5 718.5,707.1 727.5,707.3 736.5,690.4 745.5,684.6 754.5,684.9 762.5,688.6 771.5,690.1 780.5,693.1 789.5,694.5 798.5,696.7 806.5,687.0 815.5,695.1 824.5,699.5 833.5,695.1 841.5,687.0 850.5,690.4 859.5,676.1 868.5,663.9 877.5,659.4 885.5,660.9 894.5,665.2 903.5,667.9 912.5,663.6 920.5,664.5 929.5,667.9 938.5,667.0 947.5,659.4 956.5,663.6 964.5,674.0 973.5,662.5 982.5,650.0 991.5,642.0 1000.5,640.7 1008.5,636.2 1017.5,609.7 1026.5,588.6 1035.5,595.7 1043.5,590.2 1052.5,589.0 1061.5,590.0 1070.5,598.1 1079.5,596.5 1087.5,596.3 1096.5,610.1 1105.5,611.4 1114.5,608.0 1123.5,599.6" fill="none" stroke="#8e24aa" stroke-width="1.25" stroke-linejoin="round"/>
</g>
<g clip-path="url(#macd)">
<rect x="16" y="752.8" width="1" height="2.7" fill="#26a69a"/><rect x="24" y="753.0" width="1" height="2.5" fill="#b2dfdb"/><rect x="33" y="753.8" width="1" height="1.7" fill="#b2dfdb"/><rect x="42" y="754.6" width="1" height="0.9" fill="#b2dfdb"/><rect x="60" y="755.5" width="1" height="2.2" fill="#ff5252"/><rect x="68" y="755.5" width="1" height="2.9" fill="#ff5252"/><rect x="77" y="755.5" width="1" height="2.8" fill="#ffcdd2"/><rect x="86" y="755.5" width="1" height="2.7" fill="#ffcdd2"/><rect x="95" y="755.5" width="1" height="1.5" fill="#ffcdd2"/><rect x="112" y="754.9" width="1" height="0.6" fill="#26a69a"/><rect x="121" y="753.8" width="1" height="1.7" fill="#26a69a"/><rect x="130" y="753.5" width="1" height="2.0" fill="#26a69a"/><rect x="139" y="753.2" width="1" height="2.3" fill="#26a69a"/><rect x="147" y="754.1" width="1" height="1.4" fill="#b2dfdb"/><rect x="183" y="753.1" width="1" height="2.4" fill="#26a69a"/><rect x="200" y="755.5" width="1" height="1.9" fill="#ff5252"/><rect x="209" y="755.5" width="1" height="3.6" fill="#ff5252"/><rect x="218" y="755.5" width="1" height="3.3" fill="#ffcdd2"/><rect x="227" y="755.5" width="1" height="3.1" fill="#ffcdd2"/><rect x="235" y="755.5" width="1" height="2.9" fill="#ffcdd2"/><rect x="244" y="755.5" width="1" height="2.7" fill="#ffcdd2"/><rect x="253" y="755.5" width="1" height="2.5" fill="#ffcdd2"/><rect x="262" y="755.5" width="1" height="2.4" fill="#ffcdd2"/><rect x="270" y="755.5" width="1" height="2.0" fill="#ffcdd2"/><rect x="279" y="755.5" width="1" height="1.6" fill="#ffcdd2"/><rect x="288" y="755.5" width="1" height="0.8" fill="#ffcdd2"/><rect x="358" y="753.1" width="1" height="2.4" fill="#26a69a"/><rect x="367" y="752.5" width="1" height="3.0" fill="#26a69a"/><rect x="376" y="752.6" width="1" height="2.9" fill="#b2dfdb"/><rect x="385" y="752.8" width="1" height="2.7" fill="#b2dfdb"/><rect x="393" y="752.5" width="1" height="3.0" fill="#26a69a"/><rect x="402" y="752.4" width="1" height="3.1" fill="#26a69a"/><rect x="411" y="753.3" width="1" height="2.2" fill="#b2dfdb"/><rect x="420" y="754.1" width="1" height="1.4" fill="#b2dfdb"/><rect x="429" y="754.5" width="1" height="1.0" fill="#b2dfdb"/><rect x="437" y="754.8" width="1" height="0.7" fill="#b2dfdb"/><rect x="525" y="755.5" width="1" height="0.6" fill="#ff5252"/><rect x="534" y="755.5" width="1" height="0.7" fill="#ff5252"/><rect x="543" y="755.5" width="1" height="0.9" fill="#ff5252"/><rect x="552" y="755.5" width="1" height="1.0" fill="#ff5252"/><rect x="560" y="755.5" width="1" height="1.1" fill="#ff5252"/><rect x="569" y="755.5" width="1" height="1.2" fill="#ff5252"/><rect x="578" y="755.5" width="1" height="0.8" fill="#ffcdd2"/><rect x="622" y="755.0" width="1" height="0.5" fill="#26a69a"/><rect x="631" y="754.7" width="1" height="0.8" fill="#26a69a"/><rect x="666" y="755.5" width="1" height="1.4" fill="#ff5252"/><rect x="675" y="755.5" width="1" height="2.8" fill="#ff5252"/><rect x="683" y="755.5" width="1" height="9.5" fill="#ff5252"/><rect x="692" y="755.5" width="1" height="11.3" fill="#ff5252"/><rect x="701" y="755.5" width="1" height="13.4" fill="#ff5252"/><rect x="710" y="755.5" width="1" height="14.6" fill="#ff5252"/><rect x="718" y="755.5" width="1" height="15.6" fill="#ff5252"/><rect x="727" y="755.5" width="1" height="14.1" fill="#ffcdd2"/><rect x="736" y="755.5" width="1" height="12.0" fill="#ffcdd2"/><rect x="745" y="755.5" width="1" height="10.3" fill="#ffcdd2"/><rect x="754" y="755.5" width="1" height="7.5" fill="#ffcdd2"/><rect x="762" y="755.5" width="1" height="6.4" fill="#ffcdd2"/><rect x="771" y="755.5" width="1" height="4.2" fill="#ffcdd2"/><rect x="780" y="755.5" width="1" height="3.5" fill="#ffcdd2"/><rect x="789" y="755.5" width="1" height="2.8" fill="#ffcdd2"/><rect x="798" y="755.5" width="1" height="2.1" fill="#ffcdd2"/><rect x="806" y="755.5" width="1" height="1.4" fill="#ffcdd2"/><rect x="815" y="755.5" width="1" height="1.7" fill="#ff5252"/><rect x="824" y="755.5" width="1" height="2.4" fill="#ff5252"/><rect x="833" y="755.5" width="1" height="1.4" fill="#ffcdd2"/><rect x="841" y="755.5" width="1" height="0.7" fill="#ffcdd2"/><rect x="859" y="753.1" width="1" height="2.4" fill="#26a69a"/><rect x="868" y="751.2" width="1" height="4.3" fill="#26a69a"/><rect x="877" y="750.1" width="1" height="5.4" fill="#26a69a"/><rect x="885" y="749.1" width="1" height="6.4" fill="#26a69a"/><rect x="894" y="749.1" width="1" height="6.4" fill="#26a69a"/><rect x="903" y="749.1" width="1" height="6.4" fill="#b2dfdb"/><rect x="912" y="749.1" width="1" height="6.4" fill="#26a69a"/><rect x="920" y="749.1" width="1" height="6.4" fill="#b2dfdb"/><rect x="929" y="750.1" width="1" height="5.4" fill="#b2dfdb"/><rect x="938" y="750.1" width="1" height="5.4" fill="#b2dfdb"/><rect x="947" y="750.1" width="1" height="5.4" fill="#26a69a"/><rect x="956" y="750.1" width="1" height="5.4" fill="#b2dfdb"/><rect x="964" y="751.2" width="1" height="4.3" fill="#b2dfdb"/><rect x="973" y="751.2" width="1" height="4.3" fill="#b2dfdb"/><rect x="982" y="751.2" width="1" height="4.3" fill="#26a69a"/><rect x="991" y="750.2" width="1" height="5.3" fill="#26a69a"/><rect x="1000" y="749.1" width="1" height="6.4" fill="#26a69a"/><rect x="1008" y="749.1" width="1" height="6.4" fill="#26a69a"/><rect x="1017" y="746.0" width="1" height="9.5" fill="#26a69a"/><rect x="1026" y="742.0" width="1" height="13.5" fill="#26a69a"/><rect x="1035" y="740.3" width="1" height="15.2" fill="#26a69a"/><rect x="1043" y="738.2" width="1" height="17.3" fill="#26a69a"/><rect x="1052" y="738.2" width="1" height="17.3" fill="#26a69a"/><rect x="1061" y="739.2" width="1" height="16.3" fill="#b2dfdb"/><rect x="1070" y="741.0" width="1" height="14.5" fill="#b2dfdb"/><rect x="1079" y="742.0" width="1" height="13.5" fill="#b2dfdb"/><rect x="1087" y="744.1" width="1" height="11.4" fill="#b2dfdb"/><rect x="1096" y="747.3" width="1" height="8.2" fill="#b2dfdb"/><rect x="1105" y="750.2" width="1" height="5.3" fill="#b2dfdb"/><rect x="1114" y="751.2" width="1" height="4.3" fill="#b2dfdb"/><rect x="1123" y="751.2" width="1" height="4.3" fill="#b2dfdb"/>
<polyline points="11.0,751.7 16.4,751.2 26.0,751.2 51.5,753.1 60.0,755.8 69.0,757.1 86.6,758.0 104.2,756.2 121.7,753.0 139.3,750.8 156.9,752.6 174.4,752.2 183.3,749.9 192.0,752.6 209.6,757.1 227.2,758.0 244.7,758.9 262.3,759.8 279.8,760.1 297.4,758.9 314.9,758.9 330.0,759.2 348.0,758.9 358.8,755.6 367.8,754.4 384.0,753.5 402.0,751.2 420.0,751.7 438.0,752.2 456.0,752.6 474.0,752.9 492.0,752.9 510.0,753.5 528.0,754.4 546.0,755.3 569.0,756.2 582.0,755.8 600.0,755.3 632.0,754.0 648.6,754.7 666.1,755.8 674.9,758.2 683.7,767.4 692.5,772.4 701.3,777.0 710.0,781.6 718.8,786.6 727.6,789.4 736.4,790.4 745.2,790.1 753.9,789.4 771.5,788.7 789.1,788.7 797.8,789.0 806.6,788.0 815.4,788.4 824.2,789.4 833.0,789.4 841.7,788.4 850.5,788.0 859.3,786.1 868.1,783.4 876.9,780.6 885.6,778.0 894.4,776.3 903.2,774.5 918.0,772.4 947.1,768.8 955.9,768.1 964.7,768.4 973.4,767.7 982.2,765.7 991.0,763.9 999.8,762.2 1008.6,760.1 1017.3,755.4 1026.1,747.3 1034.9,741.6 1043.7,736.0 1052.5,731.0 1061.2,728.5 1070.0,726.3 1078.8,725.2 1087.6,724.6 1096.4,725.6 1105.1,726.6 1113.9,727.3 1122.7,726.6" fill="none" stroke="#2196f3" stroke-width="1.25" stroke-linejoin="round"/>
<polyline points="11.0,754.0 51.5,753.1 86.6,755.3 104.2,755.8 121.7,754.7 139.3,753.1 156.9,752.9 174.4,752.6 192.0,752.2 209.6,753.5 227.2,754.9 244.7,756.2 262.3,757.4 279.8,758.5 297.4,758.9 314.9,759.2 330.0,759.2 348.0,758.9 366.0,757.6 384.0,756.2 402.0,754.4 420.0,753.1 438.0,752.9 474.0,752.6 492.0,752.6 510.0,753.1 528.0,753.8 546.0,754.4 564.0,754.9 600.0,755.3 636.0,754.7 648.6,754.5 666.1,755.1 674.9,756.1 683.7,757.5 692.5,760.3 701.3,763.9 710.0,767.4 718.8,771.7 727.6,775.2 736.4,778.0 745.2,780.2 753.9,782.3 762.7,783.7 771.5,784.7 780.3,785.6 789.1,786.3 797.8,786.7 806.6,787.3 815.4,787.5 824.2,788.0 833.0,788.3 850.5,788.3 859.3,787.7 868.1,786.6 876.9,785.1 885.6,783.7 894.4,782.2 918.0,778.5 947.1,774.2 964.7,772.0 982.2,770.3 999.8,767.7 1017.3,763.9 1026.1,760.1 1034.9,756.8 1043.7,752.5 1052.5,747.9 1061.2,744.0 1070.0,740.5 1078.8,737.7 1087.6,734.8 1096.4,733.1 1105.1,731.7 1113.9,730.9 1122.7,730.2" fill="none" stroke="#ff6d00" stroke-width="1.25" stroke-linejoin="round"/>
</g>
<rect x="1769" y="28" width="1" height="795" fill="#5a5a5a"/>
<rect x="11" y="795" width="1814" height="1" fill="#5a5a5a"/>
<g font-family="'Liberation Sans', Arial, sans-serif" font-size="10.5" fill="#333333"><text x="1778" y="84.2" textLength="38.5" lengthAdjust="spacingAndGlyphs">2.26000</text><text x="1778" y="119.2" textLength="38.5" lengthAdjust="spacingAndGlyphs">2.24000</text><text x="1778" y="153.2" textLength="38.5" lengthAdjust="spacingAndGlyphs">2.22000</text><text x="1778" y="187.2" textLength="38.5" lengthAdjust="spacingAndGlyphs">2.20000</text><text x="1778" y="256.2" textLength="38.5" lengthAdjust="spacingAndGlyphs">2.16000</text><text x="1778" y="290.2" textLength="38.5" lengthAdjust="spacingAndGlyphs">2.14000</text><text x="1778" y="324.2" textLength="38.5" lengthAdjust="spacingAndGlyphs">2.12000</text><text x="1778" y="358.2" textLength="38.5" lengthAdjust="spacingAndGlyphs">2.10000</text><text x="1778" y="393.2" textLength="38.5" lengthAdjust="spacingAndGlyphs">2.08000</text><text x="1778" y="427.2" textLength="38.5" lengthAdjust="spacingAndGlyphs">2.06000</text><text x="1778" y="495.2" textLength="38.5" lengthAdjust="spacingAndGlyphs">2.02000</text><text x="1778" y="530.2" textLength="38.5" lengthAdjust="spacingAndGlyphs">2.00000</text><text x="1778" y="564.2" textLength="38.5" lengthAdjust="spacingAndGlyphs">1.98000</text></g>
<g font-family="'Liberation Sans', Arial, sans-serif" font-size="10.5" fill="#333333" clip-path="url(#axr)"><text x="1778" y="588.2" textLength="27.5" lengthAdjust="spacingAndGlyphs">80.00</text><text x="1778" y="629.2" textLength="27.5" lengthAdjust="spacingAndGlyphs">60.00</text><text x="1778" y="669.2" textLength="27.5" lengthAdjust="spacingAndGlyphs">40.00</text><text x="1778" y="710.2" textLength="27.5" lengthAdjust="spacingAndGlyphs">20.00</text><text x="1778" y="759.2" textLength="38.5" lengthAdjust="spacingAndGlyphs">0.00000</text></g>
<g font-family="'Liberation Sans', Arial, sans-serif" font-size="10.5"><path d="M1770,94 H1818 a3,3 0 0 1 3,3 V108 a3,3 0 0 1 -3,3 H1770 Z" fill="#ff0000"/><text x="1778" y="107.1" textLength="38.5" lengthAdjust="spacingAndGlyphs" font-weight="bold" fill="#ffffff">2.24738</text><path d="M1770,163 H1818 a3,3 0 0 1 3,3 V177 a3,3 0 0 1 -3,3 H1770 Z" fill="#ff0000"/><text x="1778" y="176.1" textLength="38.5" lengthAdjust="spacingAndGlyphs" font-weight="bold" fill="#ffffff">2.20708</text><path d="M1770,206 H1818 a3,3 0 0 1 3,3 V233 a3,3 0 0 1 -3,3 H1770 Z" fill="#0000ff"/><text x="1778" y="219.2" textLength="38.5" lengthAdjust="spacingAndGlyphs" font-weight="bold" fill="#ffffff">2.18223</text><text x="1778" y="232.0" textLength="27.5" lengthAdjust="spacingAndGlyphs" font-weight="bold" fill="#dcdcff">06:17</text><path d="M1770,295 H1818 a3,3 0 0 1 3,3 V309 a3,3 0 0 1 -3,3 H1770 Z" fill="#4caf50"/><text x="1778" y="308.1" textLength="38.5" lengthAdjust="spacingAndGlyphs" font-weight="bold" fill="#ffffff">2.13000</text><path d="M1770,446 H1818 a3,3 0 0 1 3,3 V460 a3,3 0 0 1 -3,3 H1770 Z" fill="#4caf50"/><text x="1778" y="459.1" textLength="38.5" lengthAdjust="spacingAndGlyphs" font-weight="bold" fill="#ffffff">2.04182</text><path d="M1770,544 H1818 a3,3 0 0 1 3,3 V558 a3,3 0 0 1 -3,3 H1770 Z" fill="#4caf50"/><text x="1778" y="557.1" textLength="38.5" lengthAdjust="spacingAndGlyphs" font-weight="bold" fill="#ffffff">1.98459</text></g>
<rect x="1773.5" y="31.5" width="47" height="26" rx="4.5" fill="#ffffff" stroke="#ececec" stroke-width="1"/>
<text x="1782.3" y="48.8" font-family="'Liberation Sans', Arial, sans-serif" font-size="12" fill="#131722" textLength="20.2" lengthAdjust="spacingAndGlyphs">USD</text>
<g font-family="'Liberation Sans', Arial, sans-serif" font-size="10.6" fill="#262626" text-anchor="middle"><text x="50.7" y="812" textLength="12.2" lengthAdjust="spacingAndGlyphs">28</text><text x="103.7" y="812" textLength="26.7" lengthAdjust="spacingAndGlyphs">06:00</text><text x="155.7" y="812" textLength="26.7" lengthAdjust="spacingAndGlyphs">12:00</text><text x="208.7" y="812" textLength="26.7" lengthAdjust="spacingAndGlyphs">18:00</text><text x="261.7" y="812" textLength="12.2" lengthAdjust="spacingAndGlyphs">29</text><text x="313.7" y="812" textLength="26.7" lengthAdjust="spacingAndGlyphs">06:00</text><text x="366.7" y="812" textLength="26.7" lengthAdjust="spacingAndGlyphs">12:00</text><text x="419.7" y="812" textLength="26.7" lengthAdjust="spacingAndGlyphs">18:00</text><text x="471.7" y="812" textLength="12.2" lengthAdjust="spacingAndGlyphs">30</text><text x="524.7" y="812" textLength="26.7" lengthAdjust="spacingAndGlyphs">06:00</text><text x="577.7" y="812" textLength="26.7" lengthAdjust="spacingAndGlyphs">12:00</text><text x="630.7" y="812" textLength="26.7" lengthAdjust="spacingAndGlyphs">18:00</text><text x="682.7" y="812" textLength="18.4" lengthAdjust="spacingAndGlyphs">Dec</text><text x="735.7" y="812" textLength="26.7" lengthAdjust="spacingAndGlyphs">06:00</text><text x="788.7" y="812" textLength="26.7" lengthAdjust="spacingAndGlyphs">12:00</text><text x="840.7" y="812" textLength="26.7" lengthAdjust="spacingAndGlyphs">18:00</text><text x="893.7" y="812" textLength="6.0" lengthAdjust="spacingAndGlyphs">2</text><text x="946.7" y="812" textLength="26.7" lengthAdjust="spacingAndGlyphs">06:00</text><text x="999.7" y="812" textLength="26.7" lengthAdjust="spacingAndGlyphs">12:00</text><text x="1051.7" y="812" textLength="26.7" lengthAdjust="spacingAndGlyphs">18:00</text><text x="1104.7" y="812" textLength="6.0" lengthAdjust="spacingAndGlyphs">3</text><text x="1157.7" y="812" textLength="26.7" lengthAdjust="spacingAndGlyphs">06:00</text><text x="1209.7" y="812" textLength="26.7" lengthAdjust="spacingAndGlyphs">12:00</text><text x="1262.7" y="812" textLength="26.7" lengthAdjust="spacingAndGlyphs">18:00</text><text x="1315.7" y="812" textLength="6.0" lengthAdjust="spacingAndGlyphs">4</text><text x="1368.7" y="812" textLength="26.7" lengthAdjust="spacingAndGlyphs">06:00</text><text x="1420.7" y="812" textLength="26.7" lengthAdjust="spacingAndGlyphs">12:00</text><text x="1473.7" y="812" textLength="26.7" lengthAdjust="spacingAndGlyphs">18:00</text><text x="1526.7" y="812" textLength="6.0" lengthAdjust="spacingAndGlyphs">5</text><text x="1578.7" y="812" textLength="26.7" lengthAdjust="spacingAndGlyphs">06:00</text><text x="1631.7" y="812" textLength="26.7" lengthAdjust="spacingAndGlyphs">12:00</text><text x="1684.7" y="812" textLength="26.7" lengthAdjust="spacingAndGlyphs">18:00</text><text x="1736.7" y="812" textLength="6.0" lengthAdjust="spacingAndGlyphs">6</text></g>
<g font-family="'Liberation Sans', Arial, sans-serif"><text x="18" y="45.7" fill="#555555" font-size="12" textLength="164.4" lengthAdjust="spacingAndGlyphs">XRP / U.S. Dollar · 1h · Kraken</text><text x="189.8" y="45.8" fill="#555555" font-size="12" textLength="8.4" lengthAdjust="spacingAndGlyphs">O</text><text x="198.4" y="45.8" fill="#2b5c3c" font-size="12" textLength="42.0" lengthAdjust="spacingAndGlyphs">2.16126</text><text x="247.2" y="45.8" fill="#555555" font-size="12" textLength="8.0" lengthAdjust="spacingAndGlyphs">H</text><text x="255.2" y="45.8" fill="#2b5c3c" font-size="12" textLength="42.0" lengthAdjust="spacingAndGlyphs">2.19080</text><text x="305.2" y="45.8" fill="#555555" font-size="12" textLength="6.0" lengthAdjust="spacingAndGlyphs">L</text><text x="310.9" y="45.8" fill="#2b5c3c" font-size="12" textLength="42.0" lengthAdjust="spacingAndGlyphs">2.16007</text><text x="360.2" y="45.8" fill="#555555" font-size="12" textLength="7.2" lengthAdjust="spacingAndGlyphs">C</text><text x="367.6" y="45.8" fill="#2b5c3c" font-size="12" textLength="42.0" lengthAdjust="spacingAndGlyphs">2.18223</text><text x="416.6" y="45.8" fill="#2b5c3c" font-size="12" textLength="96.8" lengthAdjust="spacingAndGlyphs">+0.02060 (+0.95%)</text><text x="18" y="62.6" fill="#555555" font-size="12" textLength="87" lengthAdjust="spacingAndGlyphs">SMA (100, close)</text><text x="113.7" y="62.6" fill="#f23645" font-size="12" textLength="5.4" lengthAdjust="spacingAndGlyphs">2</text><text x="18.5" y="600.7" fill="#555555" font-size="12" textLength="74.9" lengthAdjust="spacingAndGlyphs">RSI (14, close)</text><text x="102.5" y="600.7" fill="#8e24aa" font-size="12" textLength="28.5" lengthAdjust="spacingAndGlyphs">72.20</text><text x="138.5" y="600.7" fill="#fbe435" font-size="12" textLength="28.8" lengthAdjust="spacingAndGlyphs">71.32</text><text x="175.5" y="600.7" fill="#555555" font-size="12" textLength="7" lengthAdjust="spacingAndGlyphs">∅</text><text x="191.8" y="600.7" fill="#555555" font-size="12" textLength="7" lengthAdjust="spacingAndGlyphs">∅</text><text x="206.8" y="600.7" fill="#555555" font-size="12" textLength="7" lengthAdjust="spacingAndGlyphs">∅</text><text x="221.8" y="600.7" fill="#555555" font-size="12" textLength="7" lengthAdjust="spacingAndGlyphs">∅</text><text x="17.9" y="739.7" fill="#555555" font-size="12" textLength="110.3" lengthAdjust="spacingAndGlyphs">MACD (12, 26, close)</text><text x="136.3" y="739.7" fill="#b2dfdb" font-size="12" textLength="42.3" lengthAdjust="spacingAndGlyphs">0.00424</text><text x="185.8" y="739.7" fill="#2196f3" font-size="12" textLength="41.2" lengthAdjust="spacingAndGlyphs">0.03373</text><text x="235" y="739.7" fill="#ff6d00" font-size="12" textLength="42" lengthAdjust="spacingAndGlyphs">0.02949</text></g>
<g><path d="M1114.81,565.75 A9.4,9.4 0 1 1 1118.01,575.91" fill="none" stroke="#8e24aa" stroke-width="1.5"/><path d="M1126.9,562.8 L1119.4,569 L1123.3,569 L1120,574.2 L1127.8,567.6 L1123.9,567.6 Z" fill="#8e24aa"/><path d="M1112.9,567.2 Q1113.7,571.2 1117.7,572 Q1113.7,572.8 1112.9,576.8 Q1112.1,572.8 1108.1,572 Q1112.1,571.2 1112.9,567.2 Z" fill="#6b4dff"/></g>
<g fill="#131313"><path d="M12.1,845.1 H23.9 V859.7 H18.2 V850.7 H12.1 Z"/><circle cx="28.9" cy="848" r="2.85"/><path d="M35,845.1 H41.8 L35.9,859.7 H29.1 Z"/><text x="49" y="860" font-family="'Liberation Sans', Arial, sans-serif" font-size="20.5" font-weight="bold" textLength="120.7" lengthAdjust="spacingAndGlyphs">TradingView</text></g>
</svg>
</body></html>
